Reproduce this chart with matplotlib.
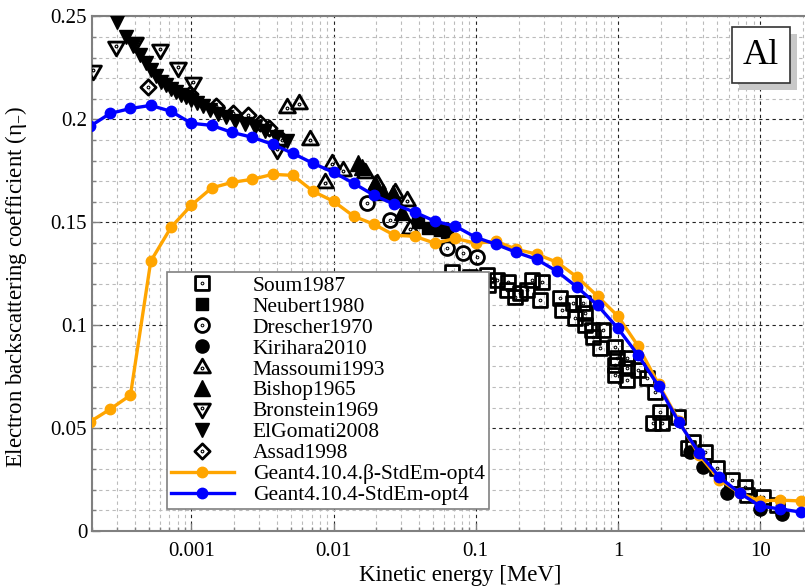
import matplotlib
matplotlib.use("Agg")
import matplotlib.pyplot as plt
from matplotlib.path import Path
from matplotlib.patches import Rectangle
from matplotlib.ticker import FixedLocator, LogLocator, MultipleLocator, FuncFormatter
import numpy as np

plt.rcParams["font.family"] = ["Liberation Serif", "DejaVu Serif"]
plt.rcParams["mathtext.fontset"] = "custom"
plt.rcParams["mathtext.rm"] = "Liberation Serif"
plt.rcParams["mathtext.it"] = "Liberation Serif:italic"

# Geant4 simulation energies [MeV]
sim_energy = [1.931e-4, 2.683e-4, 3.728e-4, 5.179e-4, 7.197e-4,
              1e-3, 1.389e-3, 1.931e-3, 2.683e-3, 3.728e-3, 5.179e-3, 7.197e-3,
              0.01, 0.01389, 0.01931, 0.02683, 0.03728, 0.05179, 0.07197,
              0.1, 0.1389, 0.1931, 0.2683, 0.3728, 0.5179, 0.7197,
              1.0, 1.389, 1.931, 2.683, 3.728, 5.179, 7.197,
              10.0, 13.89, 19.31]
g4_beta = [0.053, 0.0592, 0.0660, 0.1311, 0.1476,
           0.1583, 0.1667, 0.1694, 0.1709, 0.1733, 0.1728, 0.1650,
           0.1602, 0.1529, 0.1490, 0.1437, 0.1432, 0.1398, 0.1422,
           0.1398, 0.1408, 0.1369, 0.1345, 0.1306, 0.1233, 0.1141,
           0.1044, 0.0898, 0.0714, 0.0535, 0.0369, 0.0250, 0.0184,
           0.0146, 0.0150, 0.0146]
g4_std = [0.1966, 0.2029, 0.2053, 0.2068, 0.2039,
          0.1981, 0.1971, 0.1937, 0.1913, 0.1879, 0.1835, 0.1786,
          0.1743, 0.1689, 0.1631, 0.1587, 0.1549, 0.1505, 0.1481,
          0.1427, 0.1393, 0.1354, 0.1320, 0.1262, 0.1184, 0.1097,
          0.0985, 0.0854, 0.0704, 0.0529, 0.0379, 0.0262, 0.0184,
          0.0121, 0.0107, 0.0092]

# experimental data
soum_e = [0.0682, 0.0914, 0.1202, 0.1222, 0.1413, 0.169, 0.1663, 0.189, 0.205,
          0.2296, 0.2489, 0.293, 0.2838, 0.3917, 0.4046, 0.4831, 0.5, 0.569,
          0.5875, 0.5875, 0.6577, 0.7852, 0.668, 0.748, 0.955, 0.986, 1.159,
          0.955, 0.955, 1.159, 1.159, 1.384, 1.600, 1.822, 1.976, 1.766, 2.04,
          2.642, 3.11, 3.373, 4.09, 4.97, 6.34, 7.82, 8.07, 10.47, 13.1]
soum_eta = [0.1257, 0.1233, 0.1243, 0.1194, 0.1218, 0.1209, 0.1170, 0.1136, 0.1155,
            0.1170, 0.1218, 0.1209, 0.1121, 0.1131, 0.1073, 0.1107, 0.1034, 0.1107,
            0.1058, 0.1000, 0.0976, 0.0976, 0.0942, 0.0888, 0.0893, 0.0840, 0.0840,
            0.0806, 0.0757, 0.0791, 0.0733, 0.0782, 0.0743, 0.0675, 0.0578, 0.0524, 0.0524,
            0.0553, 0.0403, 0.0432, 0.0383, 0.0306, 0.0248, 0.0214, 0.0175, 0.0165, 0.0126]
neubert_e = [0.0394, 0.0463, 0.0562, 0.0629]
neubert_eta = [0.1500, 0.1471, 0.1461, 0.1451]
drescher_e = [0.01726, 0.025, 0.0629, 0.0815, 0.1023]
drescher_eta = [0.1592, 0.1510, 0.1374, 0.1350, 0.1330]
kirihara_e = [3.21, 4.0, 5.9, 10.0, 14.3]
kirihara_eta = [0.0383, 0.0311, 0.0184, 0.0107, 0.0083]
massoumi_e = [4.73e-3, 5.74e-3, 6.86e-3, 8.73e-3, 9.8e-3, 0.0117, 0.0167,
              0.0203, 0.0272, 0.033, 0.0346]
massoumi_eta = [0.2058, 0.2078, 0.1903, 0.1694, 0.1786, 0.1752, 0.1743,
                0.1689, 0.1646, 0.1607, 0.1471]
bishop_e = [0.01493, 0.01592, 0.01963, 0.02234, 0.0263, 0.0304]
bishop_eta = [0.1786, 0.1767, 0.1689, 0.1646, 0.1641, 0.1549]
bronstein_e = [2.03e-4, 2.97e-4, 4.04e-4, 6.05e-4, 8.11e-4, 1.02e-3, 4.02e-3]
bronstein_eta = [0.2233, 0.2350, 0.2369, 0.2335, 0.2252, 0.2175, 0.1850]
elgomati_e = [3.02e-4, 3.49e-4, 3.91e-4, 4.38e-4, 4.83e-4, 5.24e-4, 5.68e-4,
              6.16e-4, 6.67e-4, 7.23e-4, 7.85e-4, 8.51e-4, 9.22e-4, 1.0e-3,
              1.10e-3, 1.21e-3, 1.36e-3, 1.55e-3, 1.76e-3, 2.04e-3, 2.40e-3,
              2.82e-3, 3.31e-3, 3.96e-3, 4.73e-3]
elgomati_eta = [0.2471, 0.2398, 0.2359, 0.2311, 0.2272, 0.2238, 0.2209,
                0.2184, 0.2165, 0.2146, 0.2131, 0.2117, 0.2107, 0.2092,
                0.2078, 0.2063, 0.2044, 0.2024, 0.2010, 0.1990, 0.1976,
                0.1961, 0.1942, 0.1913, 0.1893]
assad_e = [4.99e-4, 9.84e-4, 1.50e-3, 1.97e-3, 2.52e-3, 3.05e-3, 3.53e-3, 4.36e-3]
assad_eta = [0.2155, 0.2121, 0.2063, 0.2029, 0.2019, 0.1981, 0.1956, 0.1898]


def dotted(outer):
    # open marker with a small dot in the middle, gnuplot style
    dot = Path.circle((0, 0), 0.07)
    return Path.make_compound_path(outer, dot)


sq = Path([(-1, -1), (1, -1), (1, 1), (-1, 1), (-1, -1)],
          [Path.MOVETO, Path.LINETO, Path.LINETO, Path.LINETO, Path.CLOSEPOLY])
tri_up = Path([(0, 1), (-0.95, -0.65), (0.95, -0.65), (0, 1)],
              [Path.MOVETO, Path.LINETO, Path.LINETO, Path.CLOSEPOLY])
tri_dn = Path([(0, -1), (-0.95, 0.65), (0.95, 0.65), (0, -1)],
              [Path.MOVETO, Path.LINETO, Path.LINETO, Path.CLOSEPOLY])
diam = Path([(0, 1), (-1, 0), (0, -1), (1, 0), (0, 1)],
            [Path.MOVETO, Path.LINETO, Path.LINETO, Path.LINETO, Path.CLOSEPOLY])
m_sq = dotted(sq)
m_circ = dotted(Path.circle((0, 0), 1.0))
m_up = Path.make_compound_path(tri_up, Path.circle((0, -0.12), 0.07))
m_dn = Path.make_compound_path(tri_dn, Path.circle((0, 0.12), 0.07))
m_dia = dotted(diam)

fig = plt.figure(figsize=(8.05, 5.87), dpi=100)
ax = fig.add_axes([0.1143, 0.0954, 0.8832 * 1.0028, 0.8765])

open_kw = dict(ls="none", mfc="none", mec="black", mew=2.0)
fill_kw = dict(ls="none", color="black")

series = [
    (soum_e, soum_eta, dict(marker=m_sq, ms=10, **open_kw), "Soum1987"),
    (neubert_e, neubert_eta, dict(marker="s", ms=9, **fill_kw), "Neubert1980"),
    (drescher_e, drescher_eta, dict(marker=m_circ, ms=10, **open_kw), "Drescher1970"),
    (kirihara_e, kirihara_eta, dict(marker="o", ms=9.5, **fill_kw), "Kirihara2010"),
    (massoumi_e, massoumi_eta, dict(marker=m_up, ms=12, **open_kw), "Massoumi1993"),
    (bishop_e, bishop_eta, dict(marker="^", ms=11, **fill_kw), "Bishop1965"),
    (bronstein_e, bronstein_eta, dict(marker=m_dn, ms=12, **open_kw), "Bronstein1969"),
    (elgomati_e, elgomati_eta, dict(marker="v", ms=10.5, **fill_kw), "ElGomati2008"),
    (assad_e, assad_eta, dict(marker=m_dia, ms=11, **open_kw), "Assad1998"),
]
for e, eta, kw, lab in series:
    ax.plot(e, eta, label=lab, zorder=3, clip_on=True, **kw)

ax.plot(sim_energy, g4_beta, color="#FFA500", lw=2.4, marker="o", ms=7.5,
        label="Geant4.10.4.\u03b2-StdEm-opt4", zorder=4)
ax.plot(sim_energy, g4_std, color="#0000FF", lw=2.4, marker="o", ms=7.5,
        label="Geant4.10.4-StdEm-opt4", zorder=5)

ax.set_xscale("log")
ax.set_xlim(2e-4, 20.7)
ax.set_ylim(0, 0.25)

ax.xaxis.set_major_locator(FixedLocator([1e-3, 1e-2, 1e-1, 1, 10]))
ax.xaxis.set_minor_locator(LogLocator(base=10, subs=np.arange(2, 10), numticks=20))
ax.xaxis.set_major_formatter(FuncFormatter(lambda v, p: "%g" % v))
ax.xaxis.set_minor_formatter(FuncFormatter(lambda v, p: ""))
ax.yaxis.set_major_locator(MultipleLocator(0.05))
ax.yaxis.set_minor_locator(MultipleLocator(0.01))
ax.yaxis.set_major_formatter(FuncFormatter(lambda v, p: "%g" % round(v, 3)))

ax.grid(which="major", color="#222222", ls=(0, (3, 3)), lw=0.8)
ax.grid(which="minor", color="#bbbbbb", ls=(0, (3, 3)), lw=0.8)
ax.set_axisbelow(True)
ax.tick_params(which="both", direction="in", colors="#808080", labelcolor="black",
               labelsize=15)
ax.tick_params(which="major", length=6, width=1)
ax.tick_params(which="minor", length=3, width=1)
ax.tick_params(axis="x", pad=8)
for s in ["left", "bottom", "top"]:
    ax.spines[s].set_color("#808080")
    ax.spines[s].set_linewidth(1.5)
ax.spines["right"].set_visible(False)

ax.set_xlabel("Kinetic energy [MeV]", fontsize=16.5)
ax.set_ylabel("Electron backscattering coefficient (\u03b7$_{-}$)", fontsize=16.5)
ax.xaxis.set_label_coords(0.516, -0.066)
ax.yaxis.set_label_coords(-0.088, 0.474)

leg = ax.legend(loc="lower left", bbox_to_anchor=(0.1055, 0.0428), borderaxespad=0,
                fontsize=15.5, numpoints=1, handlelength=2.9, handletextpad=0.9,
                labelspacing=0.04, borderpad=0.18, fancybox=False, framealpha=1,
                edgecolor="#808080")
leg.get_frame().set_linewidth(1.2)
leg.set_zorder(6)

# "Al" label box with shadow
ax.add_patch(Rectangle((0.907, 0.857), 0.0816, 0.109, transform=ax.transAxes,
                       facecolor="#c8c8c8", edgecolor="none", zorder=6))
ax.add_patch(Rectangle((0.897, 0.8707), 0.0816, 0.109, transform=ax.transAxes,
                       facecolor="white", edgecolor="#333333", lw=1.2, zorder=7))
ax.text(0.9378, 0.925, "Al", transform=ax.transAxes, ha="center", va="center",
        fontsize=26, zorder=8)

fig.savefig("out.png", dpi=100)
